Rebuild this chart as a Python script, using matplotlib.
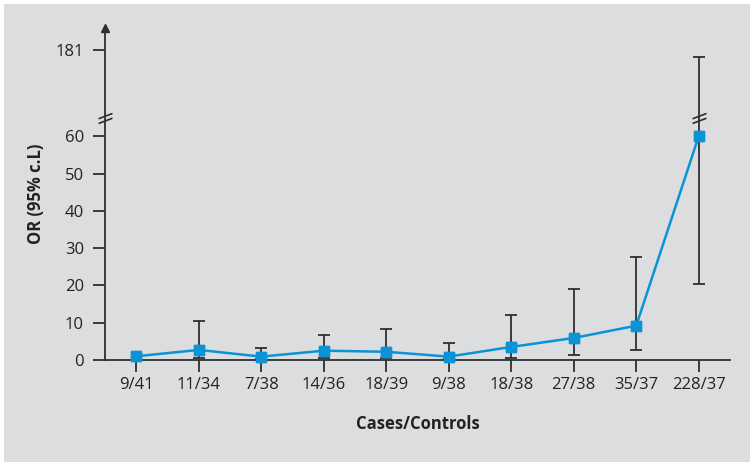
import numpy as np
import matplotlib.pyplot as plt
from matplotlib.path import Path

# odds ratios with 95% confidence limits per group
groups = ['9/41', '11/34', '7/38', '14/36', '18/39', '9/38', '18/38', '27/38', '35/37', '228/37']
odds_ratio = [1.0, 2.7, 0.9, 2.5, 2.2, 0.9, 3.5, 5.9, 9.2, 60.0]
ci_lower = [np.nan, 0.6, 0.3, 0.6, 0.6, 0.2, 0.5, 1.4, 2.7, 20.4]
ci_upper = [np.nan, 10.5, 3.1, 6.7, 8.2, 4.6, 12.1, 19.0, 27.6, 170.0]
y_ticks = [0, 10, 20, 30, 40, 50, 60, 181]

BREAK = 65.0
SQUEEZE = 0.156  # compression of the axis above the break


def forward(v):
    v = np.asarray(v, dtype=float)
    return np.where(v <= BREAK, v, BREAK + (v - BREAK) * SQUEEZE)


def inverse(v):
    v = np.asarray(v, dtype=float)
    return np.where(v <= BREAK, v, BREAK + (v - BREAK) / SQUEEZE)


plt.rcParams['font.family'] = ['Open Sans', 'DejaVu Sans']

bg = '#dcdddf'
dark = '#2e2e30'
blue = '#0a93d6'

fig = plt.figure(figsize=(7.5, 4.62), dpi=100, facecolor='white')
# grey panel with thin white margin on the left and top
fig.patches.append(plt.Rectangle((4 / 750, 0), 1, 1 - 4 / 462, transform=fig.transFigure,
                                 facecolor=bg, edgecolor='none', zorder=-10))
ax = fig.add_axes([0.14, 0.2208, 0.8333, 0.7186])
ax.set_facecolor('none')
ax.set_yscale('function', functions=(forward, inverse))

x = np.arange(len(groups))
ax.plot(x, odds_ratio, color=blue, lw=1.8, marker='s', ms=7, zorder=4, clip_on=False)

# error bars (the reference group has none)
x_err = x[1:]
y_pt = np.array(odds_ratio[1:])
lo = np.array(ci_lower[1:])
hi = np.array(ci_upper[1:])
ax.errorbar(x_err, y_pt, yerr=[y_pt - lo, hi - y_pt], fmt='none', ecolor=dark,
            elinewidth=1.3, capsize=4, capthick=1.3, zorder=3, clip_on=False)
# re-draw markers above the bars
ax.plot(x, odds_ratio, ls='none', color=blue, marker='s', ms=7, zorder=5, clip_on=False)

ax.set_xlim(-0.5, 9.5)
ax.set_ylim(0, 219)
ax.set_xticks(x)
ax.set_xticklabels(groups)
ax.set_yticks(y_ticks)
ax.set_yticklabels([str(t) for t in y_ticks])

for side in ('top', 'right'):
    ax.spines[side].set_visible(False)
for side in ('left', 'bottom'):
    ax.spines[side].set_color(dark)
    ax.spines[side].set_linewidth(1.3)

ax.tick_params(axis='both', colors=dark, labelcolor='#222222', labelsize=12, width=1.3)
ax.tick_params(axis='y', length=8.6, pad=6.5)
ax.tick_params(axis='x', length=8.4, pad=4)

# arrow head on the y axis
ax.plot(0, 1, marker='^', color=dark, ms=6, transform=ax.transAxes, clip_on=False, zorder=6)

# axis break marks
slash = Path([(-5, -3.6), (5, 0.2), (-5, -0.2), (5, 3.6)],
             [Path.MOVETO, Path.LINETO, Path.MOVETO, Path.LINETO])
ax.plot([-0.5, 9], [BREAK, BREAK], ls='none', marker=slash, ms=10, mew=1.2,
        mec=dark, mfc='none', clip_on=False, zorder=6)

ax.set_xlabel('Cases/Controls', fontsize=12, fontweight='bold', color='#222222', labelpad=16)
ax.set_ylabel('OR (95% c.L)', fontsize=12, fontweight='bold', color='#222222', labelpad=7.5)

fig.savefig('out.png', dpi=100, facecolor=fig.get_facecolor())
